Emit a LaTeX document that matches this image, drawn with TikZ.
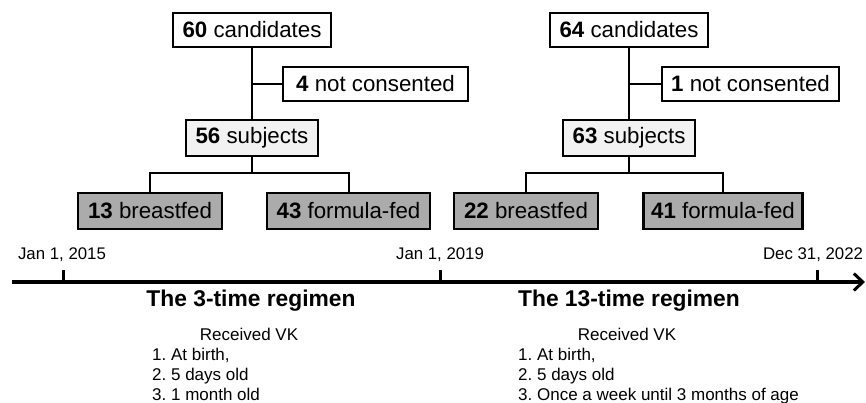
\documentclass[tikz,border=0pt]{standalone}
\usepackage{fontspec}
\setmainfont{Liberation Sans}
\usetikzlibrary{arrows.meta}
\frenchspacing
\begin{document}
\begin{tikzpicture}[x=1pt,y=-1pt,
  topbox/.style={draw=black,line width=1.3pt,fill=white,inner sep=0pt,minimum height=34pt,font=\fontsize{22.3}{25}\selectfont},
  subjbox/.style={draw=black,line width=1.5pt,fill=black!5,inner sep=0pt,minimum height=36pt,font=\fontsize{22.3}{25}\selectfont},
  groupbox/.style={draw=black,line width=2.6pt,fill=black!33,inner sep=0pt,minimum height=36pt,font=\fontsize{22.3}{25}\selectfont},
  conn/.style={line width=2pt},
  dateLabel/.style={font=\fontsize{16.8}{19}\selectfont,inner sep=0pt},
  regimen/.style={font=\bfseries\fontsize{22.8}{26}\selectfont,inner sep=0pt},
  recv/.style={font=\fontsize{17}{20}\selectfont,inner sep=0pt,anchor=base},
  listtext/.style={font=\fontsize{17}{20}\selectfont,inner sep=0pt,anchor=base west}
]
\useasboundingbox (0,0) rectangle (866,402);
% left tree
\node[topbox,minimum width=158pt] (c1) at (252,30) {\textbf{60} candidates};
\node[topbox,minimum width=185pt] (n1) at (375.5,84) {\textbf{4} not consented};
\node[subjbox,minimum width=132pt] (s1) at (252,138) {\textbf{56} subjects};
\node[groupbox,minimum width=144pt] (b1) at (150,211) {\textbf{13} breastfed};
\node[groupbox,minimum width=163pt] (f1) at (348.5,211) {\textbf{43} formula-fed};
\draw[conn] (c1.south) -- (s1.north);
\draw[conn] (c1.south |- n1.west) -- (n1.west);
\coordinate (j1) at ([yshift=-16pt]s1.south);
\draw[conn] (s1.south) -- (j1);
\draw[conn] (j1) -| (b1.north);
\draw[conn] (j1) -| (f1.north);
% right tree
\node[topbox,minimum width=158pt] (c2) at (629,30) {\textbf{64} candidates};
\node[topbox,minimum width=177pt] (n2) at (750.5,84) {\textbf{1} not consented};
\node[subjbox,minimum width=132pt] (s2) at (629,138) {\textbf{63} subjects};
\node[groupbox,minimum width=144pt] (b2) at (526,211) {\textbf{22} breastfed};
\node[groupbox,minimum width=159pt] (f2) at (723,211) {\textbf{41} formula-fed};
\draw[conn] (c2.south) -- (s2.north);
\draw[conn] (c2.south |- n2.west) -- (n2.west);
\coordinate (j2) at ([yshift=-16pt]s2.south);
\draw[conn] (s2.south) -- (j2);
\draw[conn] (j2) -| (b2.north);
\draw[conn] (j2) -| (f2.north);
% timeline
\coordinate (tl) at (12,282);
\coordinate (tr) at (865,282);
\draw[line width=3.5pt,-{Straight Barb[length=9pt,width=17pt,line width=3pt]}] (tl) -- (tr);
\coordinate (t1) at (63,282);
\coordinate (t2) at (440,282);
\coordinate (t3) at (817,282);
\foreach \t in {t1,t2,t3}{\draw[line width=3pt] (\t) -- ++(0,-12);}
\node[dateLabel] (d1) at (62,255) {Jan 1, 2015};
\node[dateLabel] (d2) at (440,255) {Jan 1, 2019};
\node[dateLabel] (d3) at (813,255) {Dec 31, 2022};
% regimens
\node[regimen] (r1) at (251,301) {The 3-time regimen};
\node[regimen] (r2) at (629,301) {The 13-time regimen};
\node[recv] (v1) at (249,340) {Received VK};
\node[listtext] (l11) at (152,360) {1. At birth,};
\node[listtext] (l12) at (152,380) {2. 5 days old};
\node[listtext] (l13) at (152,400) {3. 1 month old};
\node[recv] (v2) at (627,340) {Received VK};
\node[listtext] (l21) at (518,360) {1. At birth,};
\node[listtext] (l22) at (518,380) {2. 5 days old};
\node[listtext] (l23) at (518,400) {3. Once a week until 3 months of age};
\end{tikzpicture}
\end{document}
